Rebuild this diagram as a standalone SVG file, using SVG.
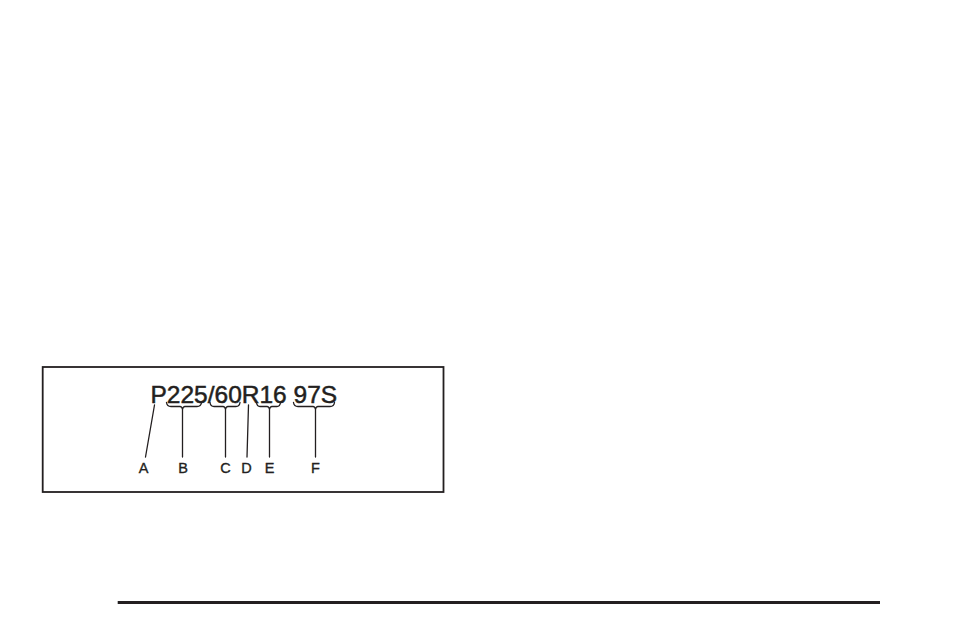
<svg xmlns="http://www.w3.org/2000/svg" width="954" height="636" viewBox="0 0 954 636">
<style>
.ink{fill:none;stroke:#231f20;stroke-width:1.3;stroke-linecap:round;stroke-linejoin:round}
.big{font-family:"Liberation Sans",Arial,sans-serif;font-size:24.5px;fill:#231f20;stroke:#231f20;stroke-width:0.5}
.lbl{font-family:"Liberation Sans",Arial,sans-serif;font-size:14.5px;fill:#231f20;stroke:#231f20;stroke-width:0.35;text-anchor:middle}
</style>
<rect width="954" height="636" fill="#ffffff"/>
<g id="frame">
<rect x="42.7" y="367" width="400.8" height="125" fill="none" stroke="#231f20" stroke-width="1.8"/>
</g>
<g id="tire-code">
<text class="big" x="150.5" y="402.5">P225/60R16 97S</text>
</g>
<g id="connectors">
<path class="ink" d="M154.5,405 L145.5,457"/>
<path class="ink" d="M166.5,402.5 Q167,406.5 171,406.5 L180,406.5 Q182,406.5 182.5,409.5 Q183,406.5 185,406.5 L197,406.5 Q201,406.5 201.5,402.5 M182.5,409.5 L182.5,457"/>
<path class="ink" d="M210,402.5 Q210.5,406.5 214,406.5 L223,406.5 Q225,406.5 225.5,409.5 Q226,406.5 228,406.5 L236,406.5 Q239.5,406.5 240,402.5 M225.5,409.5 L225.5,457"/>
<path class="ink" d="M248.5,405 L247,457"/>
<path class="ink" d="M256.5,402.5 Q257,406.5 260,406.5 L267,406.5 Q269,406.5 269.5,409.5 Q270,406.5 272,406.5 L277,406.5 Q280,406.5 280.5,402.5 M269.5,409.5 L269.5,457"/>
<path class="ink" d="M293.5,402.5 Q294,406.5 298,406.5 L313,406.5 Q315,406.5 315.5,409.5 Q316,406.5 318,406.5 L330,406.5 Q334,406.5 334.5,402.5 M315.5,409.5 L315.5,457"/>
</g>
<g id="labels">
<text class="lbl" x="143.5" y="472.5">A</text>
<text class="lbl" x="183" y="472.5">B</text>
<text class="lbl" x="225.5" y="472.5">C</text>
<text class="lbl" x="246.5" y="472.5">D</text>
<text class="lbl" x="269.5" y="472.5">E</text>
<text class="lbl" x="315.5" y="472.5">F</text>
</g>
<g id="rule">
<line x1="117.7" y1="602.5" x2="880" y2="602.5" stroke="#231f20" stroke-width="3"/>
</g>
</svg>
